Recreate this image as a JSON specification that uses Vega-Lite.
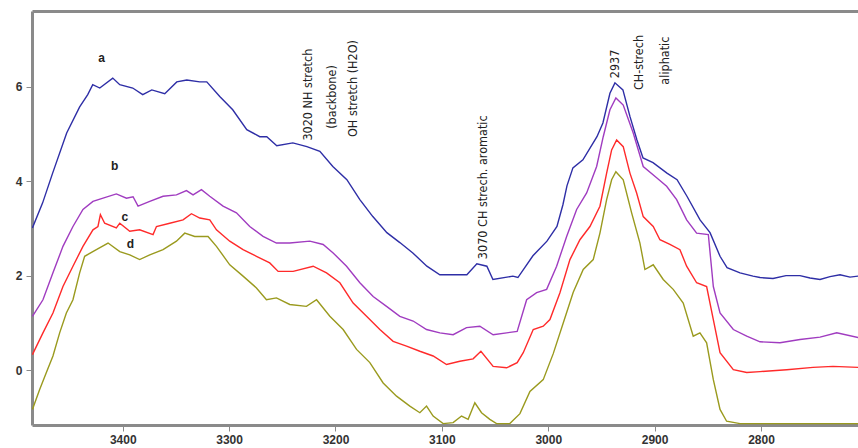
{
  "$schema": "https://vega.github.io/schema/vega-lite/v6.json",
  "width": 826,
  "height": 414,
  "autosize": {"type": "none"},
  "padding": {"left": 32, "top": 11, "right": 0, "bottom": 23},
  "background": "white",
  "config": {
    "view": {"stroke": null},
    "axis": {
      "domainColor": "#8a8a8a",
      "domainWidth": 3,
      "tickColor": "#8a8a8a",
      "tickSize": 6,
      "labelFont": "Liberation Sans",
      "labelFontSize": 12,
      "labelFontWeight": "bold",
      "labelColor": "#333333",
      "grid": false,
      "title": null
    }
  },
  "datasets": {
    "spectra": [
      {"s":"a","w":3484.9,"A":3.01},{"s":"a","w":3475.3,"A":3.54},{"s":"a","w":3465.9,"A":4.17},{"s":"a","w":3452.7,"A":5.02},{"s":"a","w":3440.5,"A":5.57},{"s":"a","w":3432.9,"A":5.83},{"s":"a","w":3428.2,"A":6.04},{"s":"a","w":3421.6,"A":5.97},{"s":"a","w":3409.4,"A":6.18},{"s":"a","w":3402.8,"A":6.04},{"s":"a","w":3390.6,"A":5.97},{"s":"a","w":3381.2,"A":5.83},{"s":"a","w":3372.7,"A":5.93},{"s":"a","w":3360.5,"A":5.85},{"s":"a","w":3349.2,"A":6.1},{"s":"a","w":3339.8,"A":6.14},{"s":"a","w":3327.6,"A":6.1},{"s":"a","w":3321.0,"A":6.1},{"s":"a","w":3308.8,"A":5.79},{"s":"a","w":3296.6,"A":5.51},{"s":"a","w":3283.4,"A":5.09},{"s":"a","w":3271.2,"A":4.94},{"s":"a","w":3264.6,"A":4.94},{"s":"a","w":3255.2,"A":4.75},{"s":"a","w":3240.1,"A":4.81},{"s":"a","w":3226.9,"A":4.73},{"s":"a","w":3214.7,"A":4.63},{"s":"a","w":3202.5,"A":4.31},{"s":"a","w":3189.3,"A":4.03},{"s":"a","w":3177.1,"A":3.61},{"s":"a","w":3164.9,"A":3.25},{"s":"a","w":3151.7,"A":2.91},{"s":"a","w":3139.5,"A":2.70},{"s":"a","w":3127.3,"A":2.48},{"s":"a","w":3114.1,"A":2.20},{"s":"a","w":3101.9,"A":2.02},{"s":"a","w":3089.7,"A":2.02},{"s":"a","w":3076.5,"A":2.02},{"s":"a","w":3067.1,"A":2.25},{"s":"a","w":3057.7,"A":2.20},{"s":"a","w":3052.0,"A":1.92},{"s":"a","w":3033.2,"A":1.99},{"s":"a","w":3028.5,"A":1.96},{"s":"a","w":3014.4,"A":2.42},{"s":"a","w":3001.2,"A":2.73},{"s":"a","w":2991.8,"A":3.04},{"s":"a","w":2986.2,"A":3.5},{"s":"a","w":2982.4,"A":3.9},{"s":"a","w":2976.8,"A":4.28},{"s":"a","w":2967.4,"A":4.45},{"s":"a","w":2954.2,"A":4.94},{"s":"a","w":2948.6,"A":5.23},{"s":"a","w":2942.0,"A":5.86},{"s":"a","w":2937.3,"A":6.08},{"s":"a","w":2929.8,"A":5.93},{"s":"a","w":2923.2,"A":5.37},{"s":"a","w":2916.6,"A":4.87},{"s":"a","w":2910.9,"A":4.49},{"s":"a","w":2901.5,"A":4.39},{"s":"a","w":2888.4,"A":4.17},{"s":"a","w":2878.9,"A":4.03},{"s":"a","w":2869.6,"A":3.68},{"s":"a","w":2857.3,"A":3.18},{"s":"a","w":2847.9,"A":2.91},{"s":"a","w":2838.5,"A":2.41},{"s":"a","w":2831.9,"A":2.17},{"s":"a","w":2819.7,"A":2.06},{"s":"a","w":2807.5,"A":1.99},{"s":"a","w":2800.9,"A":1.96},{"s":"a","w":2788.7,"A":1.94},{"s":"a","w":2776.5,"A":2.0},{"s":"a","w":2763.3,"A":2.0},{"s":"a","w":2753.9,"A":1.95},{"s":"a","w":2744.5,"A":1.92},{"s":"a","w":2735.1,"A":1.98},{"s":"a","w":2725.7,"A":2.02},{"s":"a","w":2716.3,"A":1.97},{"s":"a","w":2708.7,"A":1.99},

      {"s":"b","w":3484.9,"A":1.14},{"s":"b","w":3475.0,"A":1.49},{"s":"b","w":3465.6,"A":2.06},{"s":"b","w":3456.2,"A":2.62},{"s":"b","w":3446.8,"A":3.04},{"s":"b","w":3437.4,"A":3.40},{"s":"b","w":3428.0,"A":3.57},{"s":"b","w":3418.5,"A":3.64},{"s":"b","w":3406.0,"A":3.73},{"s":"b","w":3396.5,"A":3.64},{"s":"b","w":3390.3,"A":3.67},{"s":"b","w":3385.6,"A":3.47},{"s":"b","w":3374.6,"A":3.57},{"s":"b","w":3362.1,"A":3.68},{"s":"b","w":3349.5,"A":3.71},{"s":"b","w":3340.1,"A":3.80},{"s":"b","w":3333.9,"A":3.71},{"s":"b","w":3326.0,"A":3.82},{"s":"b","w":3318.2,"A":3.68},{"s":"b","w":3305.7,"A":3.47},{"s":"b","w":3293.1,"A":3.33},{"s":"b","w":3280.6,"A":3.04},{"s":"b","w":3268.1,"A":2.83},{"s":"b","w":3255.5,"A":2.69},{"s":"b","w":3243.0,"A":2.69},{"s":"b","w":3224.1,"A":2.73},{"s":"b","w":3211.6,"A":2.66},{"s":"b","w":3202.2,"A":2.48},{"s":"b","w":3189.6,"A":2.20},{"s":"b","w":3177.1,"A":1.85},{"s":"b","w":3164.6,"A":1.56},{"s":"b","w":3152.0,"A":1.35},{"s":"b","w":3139.5,"A":1.14},{"s":"b","w":3127.0,"A":1.04},{"s":"b","w":3114.4,"A":0.86},{"s":"b","w":3101.9,"A":0.79},{"s":"b","w":3089.4,"A":0.75},{"s":"b","w":3076.8,"A":0.90},{"s":"b","w":3064.3,"A":0.93},{"s":"b","w":3051.8,"A":0.75},{"s":"b","w":3039.1,"A":0.79},{"s":"b","w":3029.2,"A":0.82},{"s":"b","w":3020.3,"A":1.49},{"s":"b","w":3010.9,"A":1.64},{"s":"b","w":3001.5,"A":1.71},{"s":"b","w":2992.1,"A":2.20},{"s":"b","w":2982.7,"A":2.83},{"s":"b","w":2973.3,"A":3.40},{"s":"b","w":2963.9,"A":3.75},{"s":"b","w":2954.5,"A":4.31},{"s":"b","w":2948.3,"A":4.94},{"s":"b","w":2942.0,"A":5.51},{"s":"b","w":2936.4,"A":5.76},{"s":"b","w":2929.5,"A":5.61},{"s":"b","w":2920.1,"A":5.02},{"s":"b","w":2910.7,"A":4.31},{"s":"b","w":2898.1,"A":4.07},{"s":"b","w":2888.7,"A":3.89},{"s":"b","w":2879.3,"A":3.61},{"s":"b","w":2869.9,"A":3.18},{"s":"b","w":2860.5,"A":2.90},{"s":"b","w":2849.5,"A":2.87},{"s":"b","w":2844.8,"A":1.77},{"s":"b","w":2838.5,"A":1.21},{"s":"b","w":2826.0,"A":0.86},{"s":"b","w":2813.4,"A":0.72},{"s":"b","w":2800.9,"A":0.60},{"s":"b","w":2782.1,"A":0.58},{"s":"b","w":2763.3,"A":0.65},{"s":"b","w":2744.5,"A":0.70},{"s":"b","w":2728.8,"A":0.79},{"s":"b","w":2708.7,"A":0.69},

      {"s":"c","w":3484.9,"A":0.33},{"s":"c","w":3475.0,"A":0.79},{"s":"c","w":3465.6,"A":1.21},{"s":"c","w":3456.2,"A":1.77},{"s":"c","w":3446.8,"A":2.20},{"s":"c","w":3437.4,"A":2.62},{"s":"c","w":3428.0,"A":2.97},{"s":"c","w":3423.3,"A":3.04},{"s":"c","w":3421.0,"A":3.29},{"s":"c","w":3417.0,"A":3.11},{"s":"c","w":3406.0,"A":3.01},{"s":"c","w":3402.8,"A":3.11},{"s":"c","w":3393.4,"A":2.94},{"s":"c","w":3384.1,"A":2.97},{"s":"c","w":3371.5,"A":2.87},{"s":"c","w":3368.3,"A":3.04},{"s":"c","w":3355.8,"A":3.11},{"s":"c","w":3343.3,"A":3.18},{"s":"c","w":3335.4,"A":3.31},{"s":"c","w":3327.6,"A":3.22},{"s":"c","w":3318.2,"A":3.18},{"s":"c","w":3311.9,"A":2.97},{"s":"c","w":3299.4,"A":2.73},{"s":"c","w":3286.9,"A":2.55},{"s":"c","w":3274.3,"A":2.41},{"s":"c","w":3261.8,"A":2.27},{"s":"c","w":3253.9,"A":2.09},{"s":"c","w":3239.8,"A":2.09},{"s":"c","w":3221.0,"A":2.20},{"s":"c","w":3208.4,"A":2.06},{"s":"c","w":3195.9,"A":1.85},{"s":"c","w":3183.4,"A":1.42},{"s":"c","w":3170.8,"A":1.14},{"s":"c","w":3158.3,"A":0.86},{"s":"c","w":3145.8,"A":0.61},{"s":"c","w":3133.2,"A":0.51},{"s":"c","w":3120.7,"A":0.40},{"s":"c","w":3108.2,"A":0.30},{"s":"c","w":3095.6,"A":0.12},{"s":"c","w":3083.1,"A":0.19},{"s":"c","w":3070.6,"A":0.24},{"s":"c","w":3063.3,"A":0.40},{"s":"c","w":3051.8,"A":0.08},{"s":"c","w":3039.1,"A":0.05},{"s":"c","w":3029.2,"A":0.16},{"s":"c","w":3023.5,"A":0.37},{"s":"c","w":3014.1,"A":0.86},{"s":"c","w":3004.7,"A":0.93},{"s":"c","w":2998.4,"A":1.07},{"s":"c","w":2989.0,"A":1.64},{"s":"c","w":2979.6,"A":2.34},{"s":"c","w":2970.2,"A":2.76},{"s":"c","w":2960.8,"A":3.04},{"s":"c","w":2951.4,"A":3.47},{"s":"c","w":2945.1,"A":4.17},{"s":"c","w":2940.4,"A":4.66},{"s":"c","w":2935.7,"A":4.87},{"s":"c","w":2929.5,"A":4.73},{"s":"c","w":2923.2,"A":4.17},{"s":"c","w":2916.9,"A":3.75},{"s":"c","w":2910.7,"A":3.25},{"s":"c","w":2901.3,"A":3.04},{"s":"c","w":2895.0,"A":2.76},{"s":"c","w":2885.6,"A":2.66},{"s":"c","w":2876.2,"A":2.55},{"s":"c","w":2869.9,"A":2.20},{"s":"c","w":2860.5,"A":1.85},{"s":"c","w":2851.1,"A":1.77},{"s":"c","w":2844.8,"A":1.07},{"s":"c","w":2838.5,"A":0.37},{"s":"c","w":2826.0,"A":0.01},{"s":"c","w":2813.4,"A":-0.05},{"s":"c","w":2800.9,"A":-0.03},{"s":"c","w":2775.8,"A":0.01},{"s":"c","w":2751.1,"A":0.06},{"s":"c","w":2732.3,"A":0.08},{"s":"c","w":2708.7,"A":0.06},

      {"s":"d","w":3484.9,"A":-0.83},{"s":"d","w":3478.1,"A":-0.41},{"s":"d","w":3471.8,"A":-0.05},{"s":"d","w":3465.6,"A":0.30},{"s":"d","w":3459.3,"A":0.79},{"s":"d","w":3453.0,"A":1.21},{"s":"d","w":3446.8,"A":1.49},{"s":"d","w":3440.5,"A":2.06},{"s":"d","w":3435.8,"A":2.41},{"s":"d","w":3424.8,"A":2.55},{"s":"d","w":3413.8,"A":2.69},{"s":"d","w":3402.8,"A":2.51},{"s":"d","w":3393.4,"A":2.44},{"s":"d","w":3384.1,"A":2.34},{"s":"d","w":3374.6,"A":2.44},{"s":"d","w":3362.1,"A":2.55},{"s":"d","w":3349.5,"A":2.73},{"s":"d","w":3341.7,"A":2.90},{"s":"d","w":3332.3,"A":2.83},{"s":"d","w":3319.8,"A":2.83},{"s":"d","w":3311.9,"A":2.62},{"s":"d","w":3299.4,"A":2.23},{"s":"d","w":3286.9,"A":1.99},{"s":"d","w":3274.3,"A":1.74},{"s":"d","w":3264.9,"A":1.49},{"s":"d","w":3255.5,"A":1.53},{"s":"d","w":3243.0,"A":1.39},{"s":"d","w":3227.3,"A":1.35},{"s":"d","w":3217.8,"A":1.49},{"s":"d","w":3205.3,"A":1.14},{"s":"d","w":3192.8,"A":0.86},{"s":"d","w":3180.2,"A":0.44},{"s":"d","w":3167.7,"A":0.16},{"s":"d","w":3155.2,"A":-0.27},{"s":"d","w":3142.6,"A":-0.55},{"s":"d","w":3130.1,"A":-0.76},{"s":"d","w":3120.7,"A":-0.90},{"s":"d","w":3114.4,"A":-0.76},{"s":"d","w":3108.2,"A":-0.97},{"s":"d","w":3098.8,"A":-1.13},{"s":"d","w":3089.4,"A":-1.11},{"s":"d","w":3081.5,"A":-0.97},{"s":"d","w":3075.3,"A":-1.04},{"s":"d","w":3069.0,"A":-0.69},{"s":"d","w":3062.7,"A":-0.90},{"s":"d","w":3054.9,"A":-1.04},{"s":"d","w":3048.6,"A":-1.13},{"s":"d","w":3036.1,"A":-1.13},{"s":"d","w":3026.6,"A":-0.92},{"s":"d","w":3017.2,"A":-0.45},{"s":"d","w":3004.7,"A":-0.20},{"s":"d","w":2995.3,"A":0.35},{"s":"d","w":2985.9,"A":1.0},{"s":"d","w":2976.5,"A":1.65},{"s":"d","w":2967.1,"A":2.13},{"s":"d","w":2957.7,"A":2.34},{"s":"d","w":2951.4,"A":2.90},{"s":"d","w":2945.1,"A":3.61},{"s":"d","w":2940.4,"A":4.03},{"s":"d","w":2936.4,"A":4.20},{"s":"d","w":2929.5,"A":4.03},{"s":"d","w":2921.6,"A":3.33},{"s":"d","w":2913.8,"A":2.69},{"s":"d","w":2909.1,"A":2.13},{"s":"d","w":2901.3,"A":2.23},{"s":"d","w":2891.9,"A":1.92},{"s":"d","w":2882.5,"A":1.71},{"s":"d","w":2873.1,"A":1.42},{"s":"d","w":2863.7,"A":0.72},{"s":"d","w":2857.4,"A":0.79},{"s":"d","w":2851.1,"A":0.58},{"s":"d","w":2844.8,"A":-0.20},{"s":"d","w":2838.5,"A":-0.83},{"s":"d","w":2832.3,"A":-1.08},{"s":"d","w":2819.7,"A":-1.13},{"s":"d","w":2800.9,"A":-1.13},{"s":"d","w":2763.3,"A":-1.13},{"s":"d","w":2708.7,"A":-1.13}
    ],
    "notes": [
      {"label":"3020 NH stretch","w":3226.0,"A":5.83},
      {"label":"(backbone)","w":3203.7,"A":5.78},
      {"label":"OH stretch (H2O)","w":3184.0,"A":5.96},
      {"label":"3070 CH strech. aromatic","w":3061.4,"A":3.87},
      {"label":"2937","w":2937.3,"A":6.48},
      {"label":"CH-strech","w":2914.7,"A":6.51},
      {"label":"aliphatic","w":2890.3,"A":6.55}
    ],
    "letters": [
      {"label":"a","w":3419.8,"A":6.61},
      {"label":"b","w":3407.6,"A":4.33},
      {"label":"c","w":3398.1,"A":3.25},
      {"label":"d","w":3392.8,"A":2.68}
    ]
  },
  "resolve": {"axis": {"x": "independent"}},
  "layer": [
    {
      "data": {"name": "spectra"},
      "mark": {"type": "line", "strokeWidth": 1.4, "clip": true},
      "encoding": {
        "x": {"field": "w", "type": "quantitative",
              "scale": {"domain": [2708.8, 3485.3], "reverse": true, "nice": false, "zero": false},
              "axis": {"orient": "bottom", "values": [3400, 3300, 3200, 3100, 3000, 2900, 2800], "format": "d", "labelPadding": 3}},
        "y": {"field": "A", "type": "quantitative",
              "scale": {"domain": [-1.16, 7.6], "nice": false, "zero": false},
              "axis": {"values": [0, 2, 4, 6], "format": "d", "labelPadding": 4}},
        "color": {"field": "s", "type": "nominal",
                  "scale": {"domain": ["a", "b", "c", "d"], "range": ["#2e2ea6", "#a03cc0", "#ff2a2a", "#9a9a1e"]},
                  "legend": null}
      }
    },
    {
      "data": {"name": "notes"},
      "mark": {"type": "text", "angle": 270, "align": "center", "baseline": "middle",
               "font": "'Liberation Sans Narrow', 'DejaVu Sans Condensed', 'Liberation Sans'", "fontSize": 12.5, "color": "#222222"},
      "encoding": {
        "x": {"field": "w", "type": "quantitative",
              "axis": {"orient": "top", "labels": false, "ticks": false, "domain": true}},
        "y": {"field": "A", "type": "quantitative"},
        "text": {"field": "label"}
      }
    },
    {
      "data": {"name": "letters"},
      "mark": {"type": "text", "align": "center", "baseline": "middle",
               "font": "Liberation Sans", "fontSize": 12, "fontWeight": "bold", "color": "#222222"},
      "encoding": {
        "x": {"field": "w", "type": "quantitative", "axis": null},
        "y": {"field": "A", "type": "quantitative"},
        "text": {"field": "label"}
      }
    }
  ]
}
